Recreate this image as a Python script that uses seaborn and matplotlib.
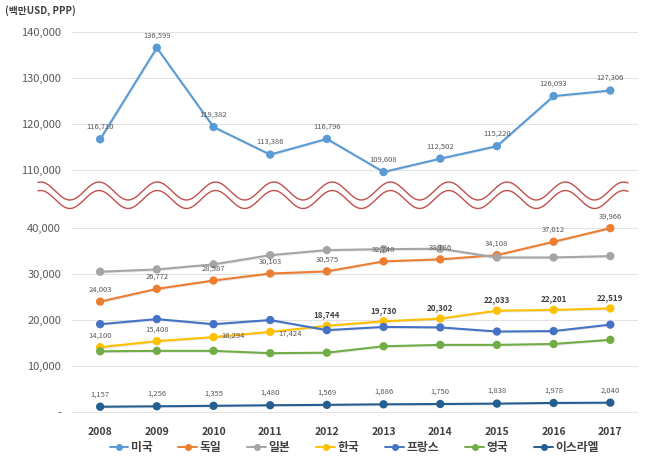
import numpy as np
import pandas as pd
import matplotlib
matplotlib.use("Agg")
import matplotlib.pyplot as plt
import matplotlib.patheffects as pe
from matplotlib.lines import Line2D
import seaborn as sns

# data (million USD, PPP)
years = [2008, 2009, 2010, 2011, 2012, 2013, 2014, 2015, 2016, 2017]
usa = [116710, 136599, 119382, 113386, 116796, 109608, 112502, 115220, 126093, 127306]
germany = [24003, 26772, 28587, 30103, 30575, 32748, 33186, 34108, 37012, 39966]
japan = [30500, 31000, 32100, 34100, 35200, 35400, 35500, 33600, 33600, 33900]
korea = [14100, 15408, 16294, 17424, 18744, 19730, 20302, 22033, 22201, 22519]
france = [19100, 20200, 19100, 20000, 17800, 18500, 18400, 17500, 17600, 19000]
uk = [13200, 13300, 13300, 12800, 12900, 14300, 14600, 14600, 14800, 15700]
israel = [1157, 1256, 1355, 1480, 1569, 1686, 1750, 1838, 1978, 2040]

names = ['미국', '독일', '일본', '한국', '프랑스', '영국', '이스라엘']
colors = ['#5B9BD5', '#ED7D31', '#A5A5A5', '#FFC000', '#4472C4', '#70AD47', '#255E91']
series = [usa, germany, japan, korea, france, uk, israel]

df = pd.DataFrame({
    'year': years * len(names),
    'country': [n for n in names for _ in years],
    'value': [v for s in series for v in s],
})
palette = dict(zip(names, colors))

sns.set_theme(style='white')
plt.rcParams['font.family'] = ['Noto Sans CJK KR', 'DejaVu Sans']

fig = plt.figure(figsize=(6.5, 4.66), dpi=100)
ax_top = fig.add_axes([0.111, 0.620, 0.871, 0.316])
ax_bot = fig.add_axes([0.111, 0.096, 0.871, 0.4246])

# soft drop shadow like the office-style chart
shadow = [pe.SimpleLineShadow(offset=(0.4, -0.6), shadow_color='#bbbbbb', alpha=0.35), pe.Normal()]

top_df = df[df.country == '미국']
bot_df = df[df.country != '미국']
sns.lineplot(data=top_df, x='year', y='value', hue='country', palette=palette, marker='o',
             markersize=6, markeredgewidth=0, linewidth=1.5, legend=False, ax=ax_top)
sns.lineplot(data=bot_df, x='year', y='value', hue='country', palette=palette, marker='o',
             markersize=6, markeredgewidth=0, linewidth=1.5, legend=False, ax=ax_bot)
for ax in (ax_top, ax_bot):
    for ln in ax.lines:
        ln.set_path_effects(shadow)

ax_top.set_ylim(108500, 140500)
ax_top.set_yticks([110000, 120000, 130000, 140000])
ax_bot.set_ylim(-2000, 41000)
ax_bot.set_yticks([0, 10000, 20000, 30000, 40000])

def fmt(v, pos=None):
    return '-' if v == 0 else f'{int(v):,}'

for ax in (ax_top, ax_bot):
    ax.set_xlim(years[0] - 0.494, years[-1] + 0.494)
    ax.yaxis.set_major_formatter(plt.FuncFormatter(fmt))
    ax.grid(axis='y', color='#e3e3e3', linewidth=0.8)
    ax.grid(axis='x', visible=False)
    for sp in ax.spines.values():
        sp.set_visible(False)
    ax.tick_params(axis='y', labelsize=8, labelcolor='#595959', length=0, pad=8)
    ax.set_xlabel('')
    ax.set_ylabel('')
    ax.patch.set_alpha(0)

ax_top.set_xticks([])
ax_bot.set_xticks(years)
ax_bot.set_xticklabels([str(y) for y in years], fontsize=7.5, fontweight='bold', color='#404040')
ax_bot.tick_params(axis='x', length=0, pad=4)

# data labels
lab_kw = dict(textcoords='offset points', ha='center', va='center', fontsize=5.5, color='#595959')
for x, v in zip(years, usa):
    ax_top.annotate(f'{v:,}', (x, v), xytext=(0, 9), **lab_kw)
for x, v in zip(years, germany):
    ax_bot.annotate(f'{v:,}', (x, v), xytext=(0, 8.5), **lab_kw)
for x, v in zip(years, israel):
    ax_bot.annotate(f'{v:,}', (x, v), xytext=(0, 9), **lab_kw)
for x, v in zip(years, korea):
    if x in (2010, 2011):
        off = (14, 1 if x == 2010 else -1.5)
    else:
        off = (0, 8)
    kw = dict(lab_kw)
    if x >= 2012:
        kw.update(fontweight='bold', color='#404040', fontsize=5.8)
    ax_bot.annotate(f'{v:,}', (x, v), xytext=off, **kw)

# wavy break marks between the two panels
ax_w = fig.add_axes([0, 0, 1, 1])
ax_w.set_xlim(0, 650)
ax_w.set_ylim(466, 0)
ax_w.axis('off')
wx = np.linspace(38, 628, 600)
wy = 191 - 9 * np.cos((wx - 99) / 58.3 * 2 * np.pi)
ax_w.plot(wx, wy, color='#C0504D', linewidth=1.0)
ax_w.plot(wx, wy + 8.5, color='#C0504D', linewidth=1.0)

fig.text(0.008, 0.978, '(백만USD, PPP)', fontsize=7, fontweight='bold', color='#404040',
         ha='left', va='center')

handles = [Line2D([0], [0], color=c, marker='o', markersize=4, linewidth=1.4) for c in colors]
fig.legend(handles, names, loc='center', bbox_to_anchor=(0.545, 0.04), ncol=7, frameon=False,
           handlelength=1.6, handletextpad=0.2, columnspacing=2.2,
           prop={'weight': 'bold', 'size': 8.5, 'family': ['Noto Sans CJK KR', 'DejaVu Sans']},
           labelcolor='#404040')

fig.savefig('out.png', dpi=100)
